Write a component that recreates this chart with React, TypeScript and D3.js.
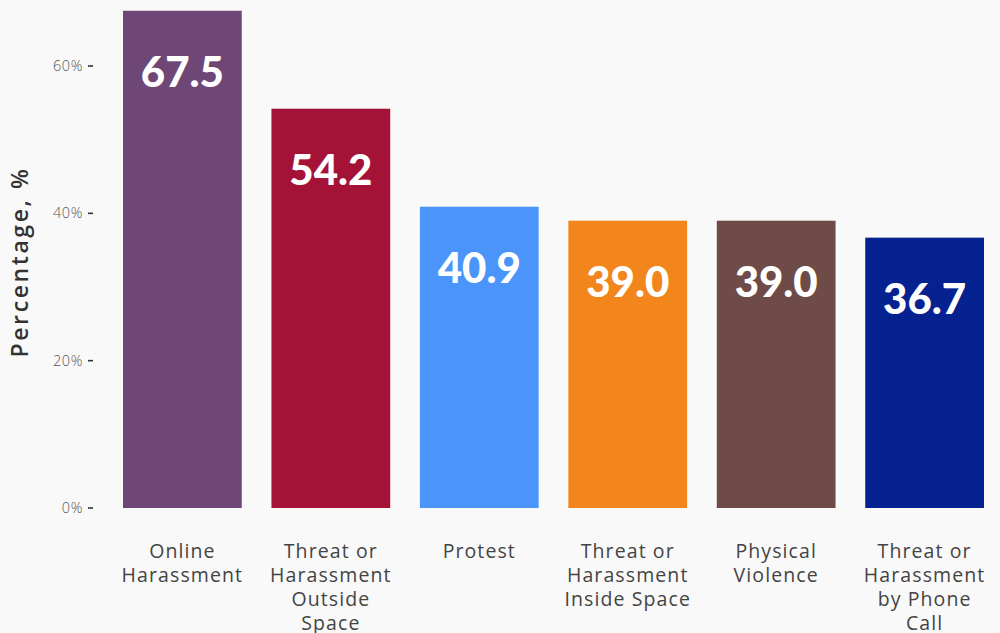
import { useRef, useEffect } from "react";
import * as d3 from "d3";

const CATEGORIES = [
  ["Online", "Harassment"],
  ["Threat or", "Harassment", "Outside", "Space"],
  ["Protest"],
  ["Threat or", "Harassment", "Inside Space"],
  ["Physical", "Violence"],
  ["Threat or", "Harassment", "by Phone", "Call"],
];
const VALUES = [67.5, 54.2, 40.9, 39.0, 39.0, 36.7];
const COLORS = ["#6f4776", "#a51237", "#4b95fa", "#f2861c", "#6f4b47", "#062290"];
const Y_TICKS = [0, 20, 40, 60];

const WIDTH = 1000;
const HEIGHT = 633;
const FONT = "Lato, 'Open Sans', sans-serif";
const LABEL_FONT = "'Open Sans', Lato, sans-serif";

export default function App() {
  const svgRef = useRef<SVGSVGElement>(null);

  useEffect(() => {
    const svg = svgRef.current;
    if (!svg) return;
    const root = d3.select(svg);
    root.selectAll("*").remove();

    root.append("rect").attr("width", WIDTH).attr("height", HEIGHT).attr("fill", "#f9f9f9");

    const idx = VALUES.map((_, i) => i);
    const x = d3
      .scaleBand<number>()
      .domain(idx)
      .range([123, 984])
      .paddingInner(0.2)
      .paddingOuter(0);
    const y = d3.scaleLinear().domain([0, 60]).range([508, 66]);

    // y ticks
    for (const t of Y_TICKS) {
      root
        .append("line")
        .attr("x1", 88)
        .attr("x2", 93)
        .attr("y1", y(t))
        .attr("y2", y(t))
        .attr("stroke", "#333")
        .attr("stroke-width", 1.6);
      root
        .append("text")
        .attr("x", 83)
        .attr("y", y(t))
        .attr("dy", "0.35em")
        .attr("text-anchor", "end")
        .attr("fill", "#555")
        .attr("font-family", LABEL_FONT)
        .attr("font-weight", 300)
        .attr("font-size", 14.5)
        .attr("letter-spacing", 0.6)
        .text(`${t}%`);
    }

    // axis title
    root
      .append("text")
      .attr("transform", "rotate(-90)")
      .attr("x", -262)
      .attr("y", 28)
      .attr("text-anchor", "middle")
      .attr("fill", "#333")
      .attr("font-family", LABEL_FONT)
      .attr("font-weight", 600)
      .attr("font-size", 23)
      .attr("letter-spacing", 2.6)
      .text("Percentage, %");

    // bars
    idx.forEach((i) => {
      const bx = x(i)!;
      const bw = x.bandwidth();
      root
        .append("rect")
        .attr("x", bx)
        .attr("y", y(VALUES[i]))
        .attr("width", bw)
        .attr("height", y(0) - y(VALUES[i]))
        .attr("fill", COLORS[i]);

      root
        .append("text")
        .attr("x", bx + bw / 2)
        .attr("y", y(VALUES[i]) + 61)
        .attr("dy", "0.36em")
        .attr("text-anchor", "middle")
        .attr("fill", "#fff")
        .attr("font-family", FONT)
        .attr("font-weight", 900)
        .attr("font-size", 42)
        .text(VALUES[i].toFixed(1));

      const label = root
        .append("text")
        .attr("text-anchor", "middle")
        .attr("fill", "#444")
        .attr("font-family", LABEL_FONT)
        .attr("font-size", 19.5)
        .attr("letter-spacing", 1.1);
      CATEGORIES[i].forEach((line, li) => {
        label
          .append("tspan")
          .attr("x", bx + bw / 2)
          .attr("y", 558 + li * 24)
          .text(line);
      });
    });
  }, []);

  return (
    <div style={{ position: "absolute", left: 0, top: 0 }}>
      <svg ref={svgRef} width={WIDTH} height={HEIGHT} style={{ display: "block" }} />
    </div>
  );
}
